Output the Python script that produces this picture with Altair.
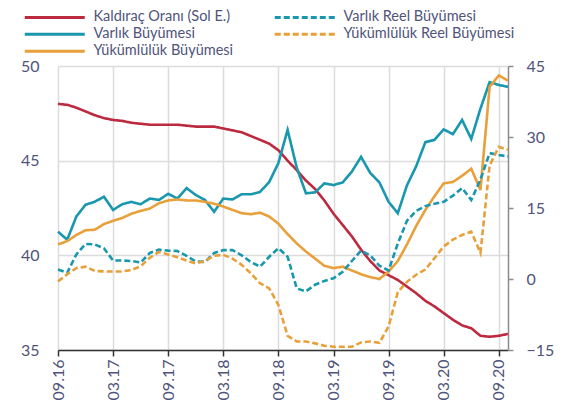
import altair as alt
import pandas as pd

# x-axis tick labels (every 6 months), data is monthly from 09.16 to 10.20
x_labels = ["09.16", "03.17", "09.17", "03.18", "09.18", "03.19", "09.19", "03.20", "09.20"]
n_months = 50

kaldirac = [48.0, 47.95, 47.8, 47.6, 47.4, 47.25, 47.15, 47.1, 47.0, 46.95,
            46.9, 46.9, 46.9, 46.9, 46.85, 46.8, 46.8, 46.8, 46.7, 46.6,
            46.5, 46.3, 46.1, 45.9, 45.55, 45.0, 44.5, 43.95, 43.5, 42.9,
            42.2, 41.6, 41.0, 40.3, 39.7, 39.2, 38.95, 38.7, 38.35, 38.0,
            37.6, 37.3, 36.95, 36.6, 36.3, 36.15, 35.75, 35.7, 35.75, 35.85]

varlik = [10.0, 8.3, 13.2, 15.7, 16.3, 17.4, 14.6, 15.8, 16.3, 15.8,
          17.0, 16.7, 18.0, 17.0, 19.2, 17.75, 16.7, 14.2, 17.0, 16.8,
          17.9, 17.9, 18.4, 20.5, 24.5, 31.5, 23.5, 18.1, 18.3, 20.2,
          19.85, 20.4, 22.7, 25.8, 22.4, 20.4, 16.3, 13.9, 19.8, 23.8,
          28.9, 29.4, 31.6, 30.6, 33.6, 29.6, 36.0, 41.6, 41.0, 40.6]

yukumluluk = [7.3, 8.0, 9.3, 10.3, 10.4, 11.6, 12.3, 12.9, 13.8, 14.4,
              14.9, 16.0, 16.6, 16.8, 16.6, 16.6, 16.3, 15.9, 15.3, 14.6,
              13.9, 13.7, 14.0, 13.2, 11.7, 9.5, 7.5, 5.8, 4.3, 2.8,
              2.3, 2.6, 1.8, 1.0, 0.4, 0.0, 1.6, 3.8, 7.3, 11.2,
              14.6, 17.5, 20.2, 20.5, 21.8, 23.3, 18.8, 40.6, 43.0, 41.9]

varlik_reel = [2.0, 1.3, 5.2, 7.4, 7.3, 6.5, 3.9, 3.9, 3.8, 3.5,
               5.5, 6.2, 6.0, 5.9, 4.9, 3.7, 3.6, 5.5, 6.1, 6.1,
               5.0, 3.6, 2.6, 4.7, 6.5, 4.7, -2.0, -2.6, -1.2, -0.4,
               0.15, 1.5, 3.8, 6.0, 5.0, 2.8, 1.8, 7.5, 12.3, 14.4,
               15.4, 15.9, 16.3, 17.6, 19.2, 16.7, 21.0, 26.6, 26.2, 25.9]

yukumluluk_reel = [-0.5, 1.0, 2.3, 2.6, 1.7, 1.6, 1.6, 1.6, 1.9, 2.7,
                   4.5, 5.7, 5.2, 4.6, 3.9, 3.3, 3.8, 4.9, 5.1, 4.3,
                   3.0, 1.2, -0.9, -2.0, -5.5, -12.0, -13.2, -13.2, -13.6, -14.1,
                   -14.3, -14.3, -14.3, -13.4, -13.2, -13.5, -10.0, -2.8, -0.6, 0.9,
                   2.0, 4.4, 6.9, 8.3, 9.3, 10.0, 5.5, 24.0, 27.9, 27.3]

# order: legend fills column by column (3 rows)
series_names = ["Kaldıraç Oranı (Sol E.)", "Varlık Büyümesi", "Yükümlülük Büyümesi",
                "Varlık Reel Büyümesi", "Yükümlülük Reel Büyümesi"]
series_values = [kaldirac, varlik, yukumluluk, varlik_reel, yukumluluk_reel]
series_axis = ["left", "right", "right", "right", "right"]
colors = ["#BC2A3F", "#1897AF", "#E8A03A", "#1897AF", "#E8A03A"]
dashes = [[1, 0], [1, 0], [1, 0], [6, 3], [6, 3]]

rows = []
for name, vals, ax in zip(series_names, series_values, series_axis):
    for i, v in enumerate(vals):
        rows.append({"m": i, "v": v, "series": name, "axis": ax})
df = pd.DataFrame(rows)

FONT = "Lato"
TXT = "#50547a"

label_js = "[" + ",".join("'" + s + "'" for s in x_labels) + "]"

x_enc = alt.X(
    "m:Q",
    scale=alt.Scale(domain=[0, n_months - 1], nice=False, zero=False),
    axis=alt.Axis(
        values=list(range(0, 49, 6)),
        labelExpr=label_js + "[round(datum.value/6)]",
        labelAngle=270, labelFlush=False, labelOverlap=False,
        grid=True, gridColor="#dcdcdc", gridWidth=1.5,
        domainColor="#333333", domainWidth=1.5,
        tickColor="#333333", tickSize=6, tickWidth=1.5,
        labelFontSize=16, labelColor=TXT, labelFont=FONT, labelPadding=3,
        title=None,
    ),
)

legend = alt.Legend(
    title=None, orient="none", legendX=-37.5, legendY=-56,
    columns=2, columnPadding=35, rowPadding=2, padding=0,
    symbolType="M-1,0H19", symbolSize=36, symbolStrokeWidth=3,
    labelOffset=58.5, labelFontSize=14.5, labelColor=TXT, labelFont=FONT,
    labelLimit=400,
)

color_enc = alt.Color("series:N", scale=alt.Scale(domain=series_names, range=colors),
                      sort=series_names, legend=legend)
dash_enc = alt.StrokeDash("series:N", scale=alt.Scale(domain=series_names, range=dashes),
                          sort=series_names, legend=legend)

base = alt.Chart(df)

left = base.transform_filter(alt.datum.axis == "left").mark_line(strokeWidth=2.6).encode(
    x=x_enc,
    y=alt.Y("v:Q", scale=alt.Scale(domain=[35, 50], nice=False, zero=False),
            axis=alt.Axis(orient="left", values=[35, 40, 45, 50], grid=True,
                          gridColor="#dcdcdc", gridWidth=1.5, ticks=False, domain=False,
                          labelPadding=19, labelFontSize=16, labelColor=TXT,
                          labelFont=FONT, title=None)),
    color=color_enc,
    strokeDash=dash_enc,
)

right = base.transform_filter(alt.datum.axis == "right").mark_line(strokeWidth=2.6).encode(
    x=x_enc,
    y=alt.Y("v:Q", scale=alt.Scale(domain=[-15, 45], nice=False, zero=False),
            axis=alt.Axis(orient="right", values=[-15, 0, 15, 30, 45], grid=False,
                          domainColor="#8c8c8c", domainWidth=1.5, tickColor="#8c8c8c",
                          tickSize=5, tickWidth=1.5, labelPadding=13, labelFontSize=16,
                          labelColor=TXT, labelFont=FONT, title=None)),
    color=color_enc,
    strokeDash=dash_enc,
)

chart = alt.layer(left, right).resolve_scale(y="independent").properties(
    width=450, height=284,
    autosize=alt.AutoSizeParams(type="none"),
    padding={"left": 50, "top": 58, "right": 49, "bottom": 50},
    background="white",
).configure_view(stroke=None)

chart.save("out.html", embed_options={"renderer": "svg", "actions": False})
